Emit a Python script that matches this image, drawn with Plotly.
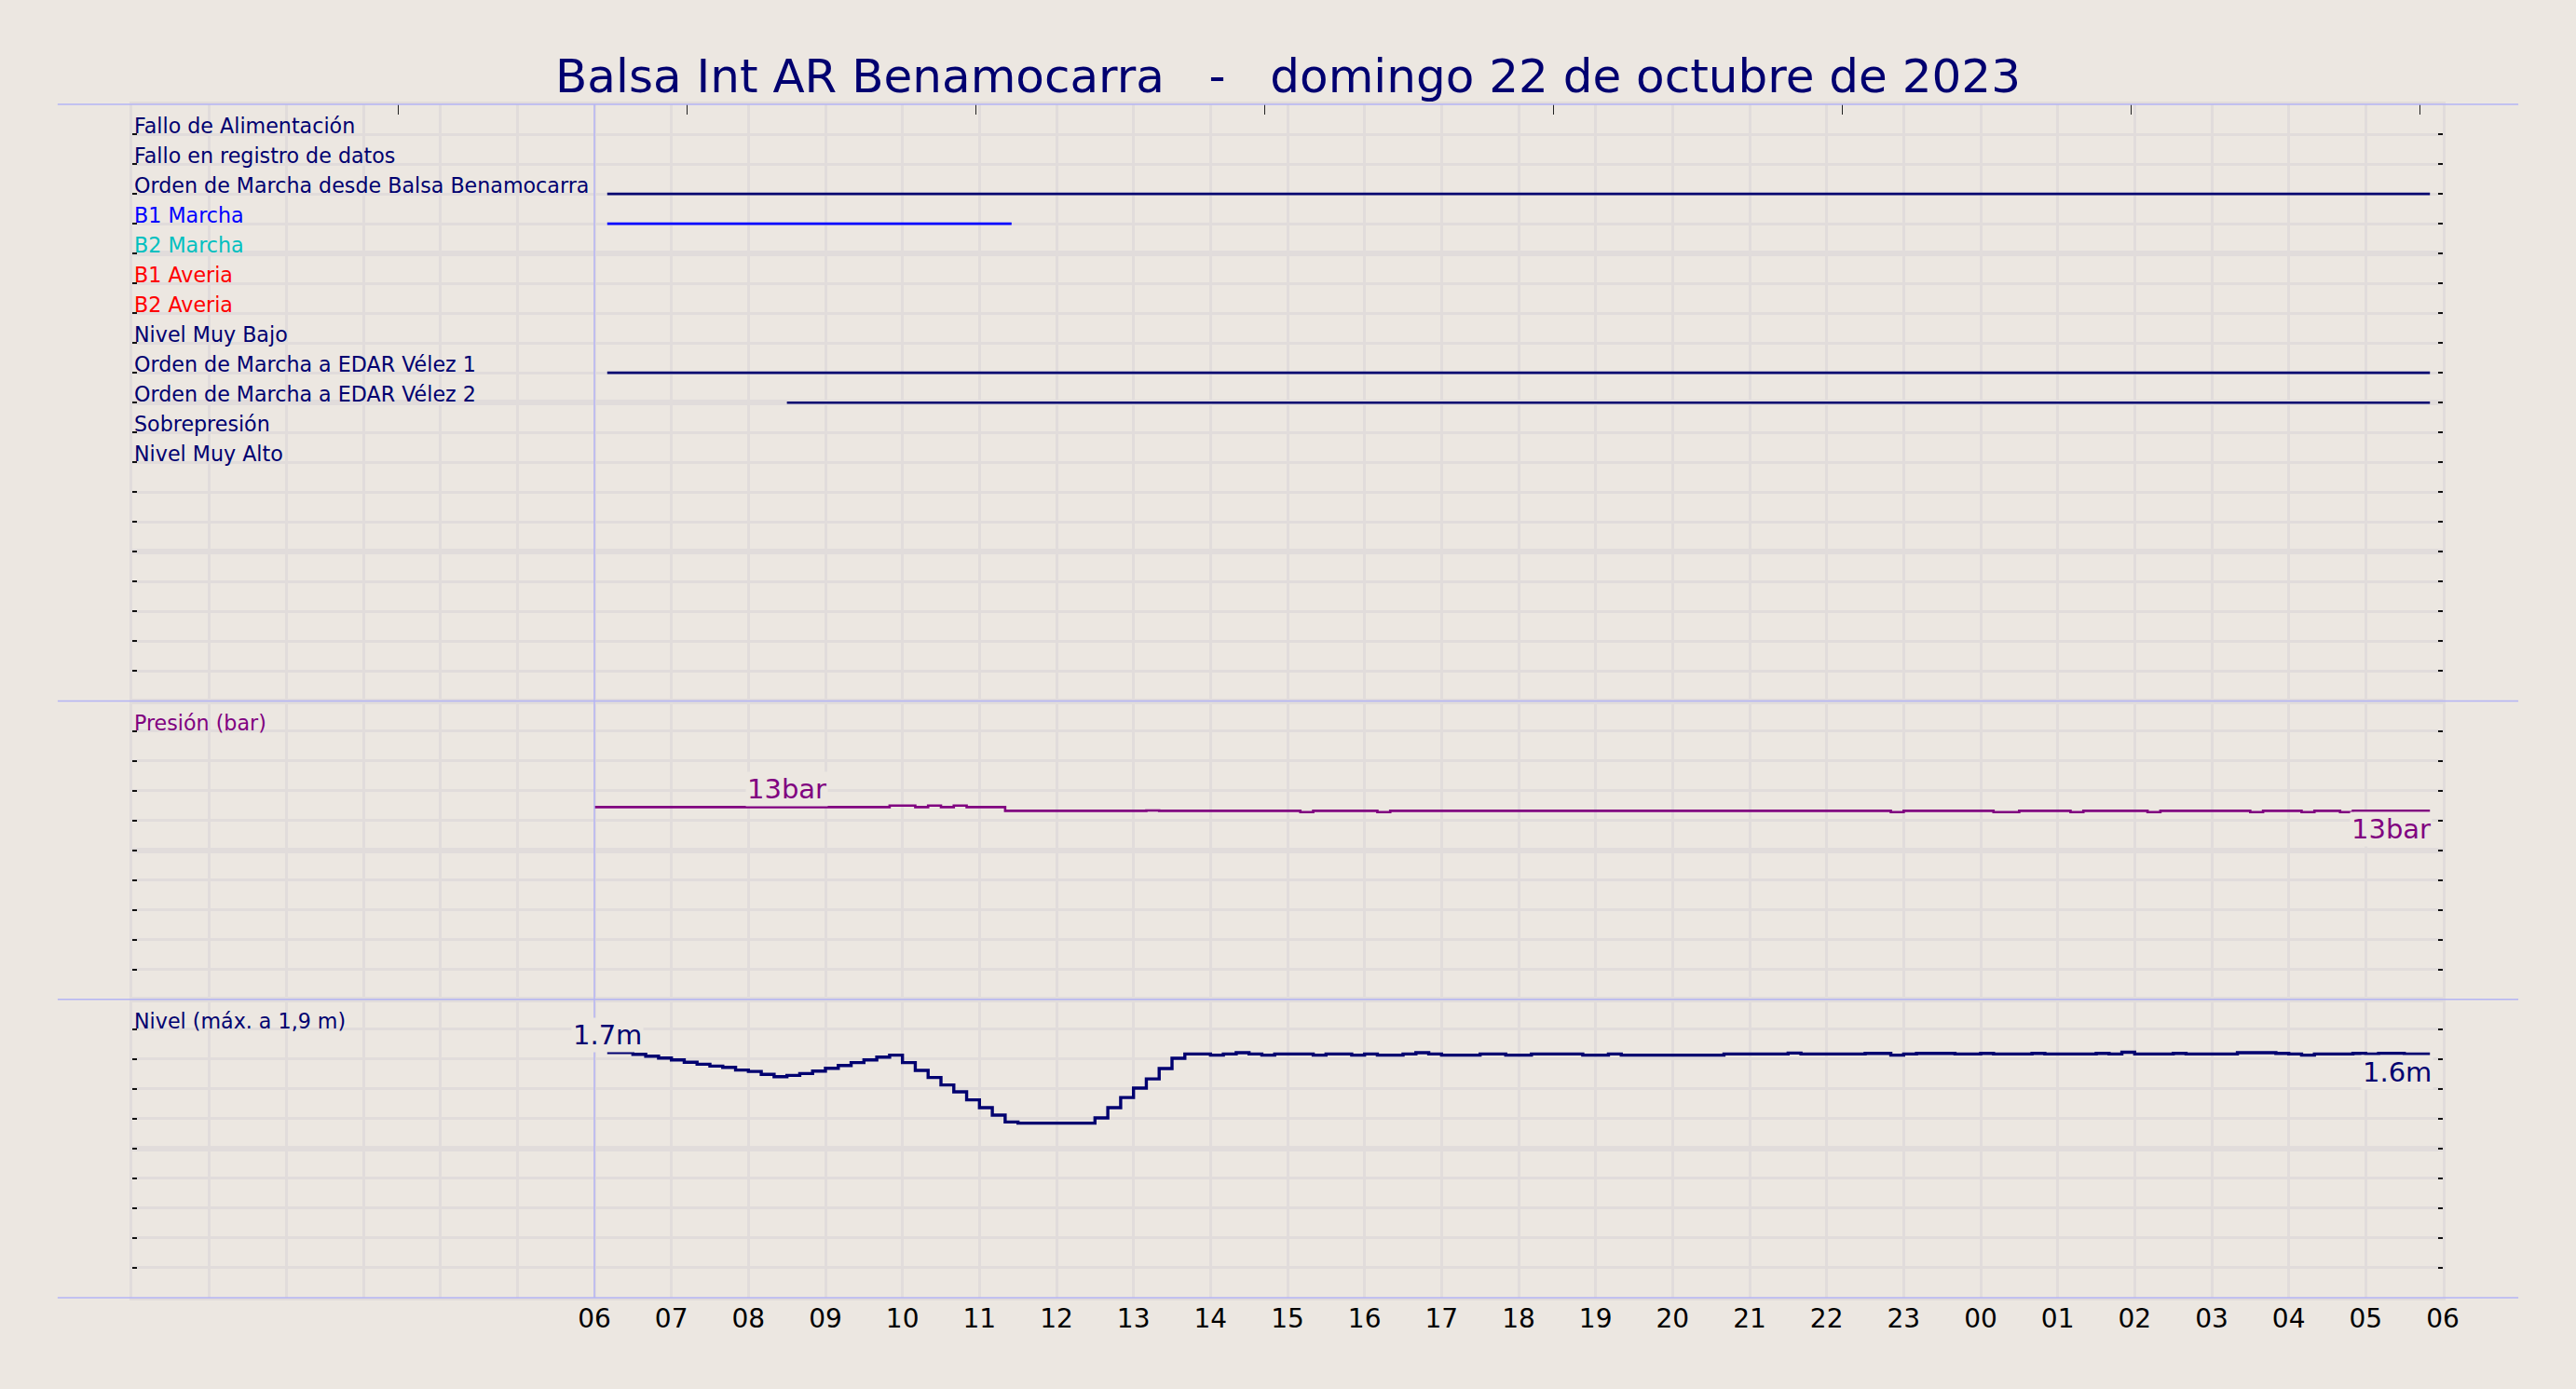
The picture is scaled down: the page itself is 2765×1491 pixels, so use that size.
import pandas as pd
import plotly.graph_objects as go

# Colours
BG = "#ECE7E1"
GRID = "#E1DCDB"
SEP = "#B4B4F4"
NAVY = "#000070"
PURPLE = "#800080"

title_text = "Balsa Int AR Benamocarra   -   domingo 22 de octubre de 2023"

# Signal panel (row number = position from the top)
signal_names = ["Fallo de Alimentación", "Fallo en registro de datos",
                "Orden de Marcha desde Balsa Benamocarra", "B1 Marcha", "B2 Marcha",
                "B1 Averia", "B2 Averia", "Nivel Muy Bajo", "Orden de Marcha a EDAR Vélez 1",
                "Orden de Marcha a EDAR Vélez 2", "Sobrepresión", "Nivel Muy Alto"]
signal_label_colors = [NAVY, NAVY, NAVY, "#0000FF", "#00C0C0", "#FF0000", "#FF0000",
                       NAVY, NAVY, NAVY, NAVY, NAVY]

# periods where a signal is active
on_rows = [3, 4, 9, 10]
on_starts = ["2023-10-22 06:10", "2023-10-22 06:10", "2023-10-22 06:10", "2023-10-22 08:30"]
on_ends = ["2023-10-23 05:50", "2023-10-22 11:25", "2023-10-23 05:50", "2023-10-23 05:50"]
on_colors = [NAVY, "#0000FF", NAVY, NAVY]

# Pressure (bar), every 10 min from 06:00
pressure = [
    12.89, 12.89, 12.89, 12.89, 12.89, 12.89,  # 06
    12.89, 12.89, 12.89, 12.89, 12.89, 12.89,  # 07
    12.89, 12.89, 12.89, 12.89, 12.89, 12.89,  # 08
    12.89, 12.89, 12.89, 12.89, 12.89, 12.99,  # 09
    12.99, 12.89, 12.99, 12.89, 12.99, 12.89,  # 10
    12.89, 12.89, 12.64, 12.64, 12.64, 12.64,  # 11
    12.64, 12.64, 12.64, 12.64, 12.64, 12.64,  # 12
    12.64, 12.66, 12.64, 12.64, 12.64, 12.64,  # 13
    12.64, 12.64, 12.64, 12.64, 12.64, 12.64,  # 14
    12.64, 12.55, 12.64, 12.64, 12.64, 12.64,  # 15
    12.64, 12.55, 12.64, 12.64, 12.64, 12.64,  # 16
    12.64, 12.64, 12.64, 12.64, 12.64, 12.64,  # 17
    12.64, 12.64, 12.64, 12.64, 12.64, 12.64,  # 18
    12.64, 12.64, 12.64, 12.64, 12.64, 12.64,  # 19
    12.64, 12.64, 12.64, 12.64, 12.64, 12.64,  # 20
    12.64, 12.64, 12.64, 12.64, 12.64, 12.64,  # 21
    12.64, 12.64, 12.64, 12.64, 12.64, 12.55,  # 22
    12.64, 12.64, 12.64, 12.64, 12.64, 12.64,  # 23
    12.64, 12.55, 12.55, 12.64, 12.64, 12.64,  # 00
    12.64, 12.55, 12.64, 12.64, 12.64, 12.64,  # 01
    12.64, 12.55, 12.64, 12.64, 12.64, 12.64,  # 02
    12.64, 12.64, 12.64, 12.55, 12.64, 12.64,  # 03
    12.64, 12.55, 12.64, 12.64, 12.55, 12.64,  # 04
    12.64, 12.64, 12.64, 12.64, 12.64, 12.64,  # 05
]
pressure_labels = ["13bar", "13bar"]

# Level (m), every 10 min from 06:10
level = [
    1.644, 1.644, 1.632, 1.619, 1.607,         # 06
    1.594, 1.578, 1.565, 1.553, 1.544, 1.526,  # 07
    1.517, 1.497, 1.482, 1.490, 1.503, 1.519,  # 08
    1.538, 1.557, 1.576, 1.594, 1.613, 1.626,  # 09
    1.576, 1.524, 1.476, 1.426, 1.380, 1.326,  # 10
    1.274, 1.224, 1.178, 1.170, 1.170, 1.170,  # 11
    1.170, 1.170, 1.170, 1.205, 1.274, 1.342,  # 12
    1.405, 1.467, 1.536, 1.605, 1.634, 1.634,  # 13
    1.626, 1.634, 1.642, 1.634, 1.626, 1.634,  # 14
    1.634, 1.634, 1.626, 1.634, 1.634, 1.626,  # 15
    1.634, 1.626, 1.626, 1.634, 1.642, 1.634,  # 16
    1.626, 1.626, 1.626, 1.634, 1.634, 1.626,  # 17
    1.626, 1.634, 1.634, 1.634, 1.634, 1.626,  # 18
    1.626, 1.634, 1.626, 1.626, 1.626, 1.626,  # 19
    1.626, 1.626, 1.626, 1.626, 1.634, 1.634,  # 20
    1.634, 1.634, 1.634, 1.640, 1.634, 1.634,  # 21
    1.634, 1.634, 1.634, 1.638, 1.638, 1.626,  # 22
    1.634, 1.638, 1.638, 1.638, 1.634, 1.634,  # 23
    1.638, 1.634, 1.634, 1.634, 1.638, 1.634,  # 00
    1.634, 1.634, 1.634, 1.638, 1.634, 1.646,  # 01
    1.634, 1.634, 1.634, 1.638, 1.634, 1.634,  # 02
    1.634, 1.634, 1.642, 1.642, 1.642, 1.638,  # 03
    1.634, 1.626, 1.634, 1.634, 1.634, 1.638,  # 04
    1.634, 1.638, 1.638, 1.634, 1.634, 1.634,  # 05
]
level_labels = ["1.7m", "1.6m"]

x_start = pd.Timestamp("2023-10-22 00:00")
x_end = pd.Timestamp("2023-10-23 06:00")
pressure_times = pd.date_range("2023-10-22 06:00", periods=len(pressure), freq="10min")
level_times = pd.date_range("2023-10-22 06:10", periods=len(level), freq="10min")
hour_ticks = pd.date_range("2023-10-22 06:00", "2023-10-23 06:00", freq="h")
hour_labels = [t.strftime("%H") for t in hour_ticks]
top_ticks = [x_start + pd.Timedelta(minutes=207 + 225 * k) for k in range(8)]

fig = go.Figure()

# signal lines
for row, s, e, c in zip(on_rows, on_starts, on_ends, on_colors):
    fig.add_trace(go.Scatter(x=[s, e], y=[row, row], mode="lines",
                             line=dict(color=c, width=2.7), xaxis="x", yaxis="y"))

fig.add_trace(go.Scatter(x=pressure_times, y=pressure, mode="lines", line_shape="hv",
                         line=dict(color=PURPLE, width=2.6), xaxis="x2", yaxis="y2"))
fig.add_trace(go.Scatter(x=level_times, y=level, mode="lines", line_shape="hv",
                         line=dict(color=NAVY, width=3.4), xaxis="x3", yaxis="y3"))
# dummy trace so the top tick axis is drawn
fig.add_trace(go.Scatter(x=top_ticks, y=[None] * len(top_ticks), mode="lines",
                         xaxis="x4", yaxis="y", hoverinfo="skip"))


def x_axis(**kw):
    ax = dict(type="date", range=[x_start, x_end], tickvals=hour_ticks, ticktext=hour_labels,
              showgrid=True, gridcolor=GRID, gridwidth=2.5, zeroline=False,
              showline=True, linecolor=GRID, linewidth=2.5, mirror=True, ticks="",
              minor=dict(dtick=3600000, tick0=x_start, showgrid=True, gridcolor=GRID, gridwidth=2.5))
    ax.update(kw)
    return ax


def y_axis(rng, major, minor, domain, anchor):
    return dict(range=rng, domain=domain, anchor=anchor, tick0=0, dtick=major,
                showgrid=True, gridcolor=GRID, gridwidth=6, zeroline=False,
                showline=True, linecolor=GRID, linewidth=2.5, mirror="ticks",
                ticks="inside", ticklen=5, tickwidth=2, tickcolor="#111111",
                showticklabels=False,
                minor=dict(dtick=minor, tick0=0, showgrid=True, gridcolor=GRID, gridwidth=2.5,
                           ticks="inside", ticklen=5, tickwidth=2, tickcolor="#111111"))


annotations = []
for i, (name, c) in enumerate(zip(signal_names, signal_label_colors)):
    annotations.append(dict(x=x_start, y=i + 1, xref="x", yref="y", text=name,
                            xanchor="left", yanchor="bottom", yshift=-6, showarrow=False,
                            font=dict(size=22.2, color=c)))
annotations.append(dict(x=x_start, y=18, xref="x2", yref="y2", text="Presión (bar)",
                        xanchor="left", yanchor="bottom", yshift=-6, showarrow=False,
                        font=dict(size=22.2, color=PURPLE)))
annotations.append(dict(x=x_start, y=1.8, xref="x3", yref="y3", text="Nivel (máx. a 1,9 m)",
                        xanchor="left", yanchor="bottom", yshift=-6, showarrow=False,
                        font=dict(size=22.2, color=NAVY)))

# value labels
annotations.append(dict(x=pressure_times[15], y=pressure[15], xref="x2", yref="y2",
                        text=pressure_labels[0], xanchor="center", yanchor="bottom",
                        showarrow=False, bgcolor=BG, font=dict(size=29, color=PURPLE)))
annotations.append(dict(x=pressure_times[-1], y=pressure[-1], xref="x2", yref="y2",
                        text=pressure_labels[1], xanchor="right", yanchor="top", yshift=-1,
                        xshift=3, showarrow=False, bgcolor=BG, font=dict(size=29, color=PURPLE)))
annotations.append(dict(x=level_times[0], y=level[0], xref="x3", yref="y3",
                        text=level_labels[0], xanchor="center", yanchor="bottom",
                        showarrow=False, bgcolor=BG, font=dict(size=29, color=NAVY)))
annotations.append(dict(x=level_times[-1], y=level[-1], xref="x3", yref="y3",
                        text=level_labels[1], xanchor="right", yanchor="top", yshift=-1,
                        xshift=4, showarrow=False, bgcolor=BG, font=dict(size=29, color=NAVY)))

# separators and day start line
shapes = []
for yy in [1, 0.5, 0.25, 0]:
    shapes.append(dict(type="line", xref="paper", yref="paper", x0=-0.0323, x1=1.0327,
                       y0=yy, y1=yy, line=dict(color=SEP, width=1.5)))
shapes.append(dict(type="line", xref="x", yref="paper", x0=hour_ticks[0], x1=hour_ticks[0],
                   y0=0, y1=1, line=dict(color=SEP, width=1.5)))

fig.update_layout(
    width=2765, height=1491,
    margin=dict(l=142, r=143, t=112, b=98),
    paper_bgcolor=BG, plot_bgcolor=BG,
    showlegend=False,
    font=dict(family="DejaVu Sans", color=NAVY),
    title=dict(text=title_text, x=0.5, xanchor="center", y=1 - 64 / 1491, yanchor="top",
               font=dict(size=50, color=NAVY)),
    xaxis=x_axis(anchor="y", showticklabels=False),
    xaxis2=x_axis(anchor="y2", matches="x", showticklabels=False),
    xaxis3=x_axis(anchor="y3", matches="x", showticklabels=True,
                  tickfont=dict(size=28, color="black"), ticklabelstandoff=-4),
    xaxis4=dict(type="date", range=[x_start, x_end], overlaying="x", side="top", anchor="y",
                tickvals=top_ticks, ticks="inside", ticklen=11, tickwidth=1.3,
                tickcolor="#222222", showticklabels=False, showgrid=False, zeroline=False),
    yaxis=y_axis([20, 0], 5, 1, [0.5, 1], "x"),
    yaxis2=y_axis([0, 20], 10, 2, [0.25, 0.5], "x2"),
    yaxis3=y_axis([0, 2], 1, 0.2, [0, 0.25], "x3"),
    annotations=annotations,
    shapes=shapes,
)

# no page margin round the figure, no toolbar
fig.write_html("out.html", config={"displayModeBar": False},
               post_script="document.body.style.margin = '0';")
